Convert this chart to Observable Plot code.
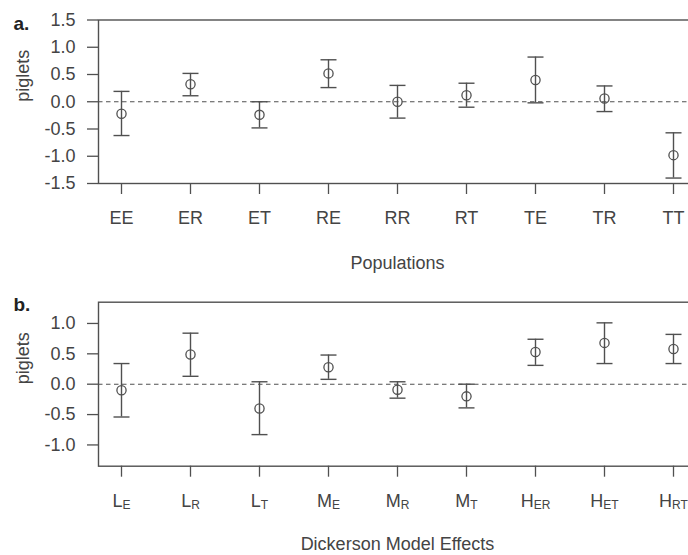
<!DOCTYPE html>
<html><head><meta charset="utf-8">
<script src="https://cdn.jsdelivr.net/npm/d3@7"></script>
<script src="https://cdn.jsdelivr.net/npm/@observablehq/plot@0.6"></script>
<style>
html,body{margin:0;padding:0;background:#fff;overflow:hidden;}
#chart{width:688px;height:555px;overflow:hidden;background:#fff;}
#chart svg{display:block;max-width:none !important;}
</style></head><body><div id="chart"></div>
<script>
// Panel a: populations
const popCategories = ["EE","ER","ET","RE","RR","RT","TE","TR","TT"];
const popMean  = [-0.22, 0.32, -0.24, 0.52, 0.00, 0.12, 0.40, 0.06, -0.98];
const popLower = [-0.62, 0.11, -0.48, 0.26, -0.30, -0.10, -0.02, -0.18, -1.40];
const popUpper = [ 0.19, 0.52,  0.00, 0.77, 0.30, 0.34, 0.82, 0.29, -0.57];
const popTicks = [-1.5, -1.0, -0.5, 0.0, 0.5, 1.0, 1.5];

// Panel b: Dickerson model effects
const effCategories = ["LE","LR","LT","ME","MR","MT","HER","HET","HRT"];
const effMain = ["L","L","L","M","M","M","H","H","H"];
const effSub  = ["E","R","T","E","R","T","ER","ET","RT"];
const effMean  = [-0.10, 0.49, -0.40, 0.28, -0.09, -0.20, 0.53, 0.68, 0.58];
const effLower = [-0.54, 0.13, -0.83, 0.08, -0.23, -0.39, 0.31, 0.34, 0.34];
const effUpper = [ 0.34, 0.84,  0.04, 0.48,  0.04,  0.00, 0.74, 1.01, 0.82];
const effTicks = [-1.0, -0.5, 0.0, 0.5, 1.0];

const ink = "#505050";
const textInk = "#444";
const font = "'Liberation Sans', Arial, Helvetica, sans-serif";

const cap = {draw(ctx, size) { const w = Math.sqrt(size / Math.PI); ctx.moveTo(-w, 0); ctx.lineTo(w, 0); }};

const popData = popCategories.map((c, i) => ({cat: c, mean: popMean[i], lower: popLower[i], upper: popUpper[i]}));
const effData = effCategories.map((c, i) => ({cat: c, mean: effMean[i], lower: effLower[i], upper: effUpper[i]}));

function panel(data, opts) {
  return Plot.plot({
    width: 700, height: opts.height,
    marginLeft: 98, marginRight: 4, marginTop: opts.marginTop, marginBottom: opts.marginBottom,
    style: {fontFamily: font, fontSize: "18px", color: textInk, background: "#fff", overflow: "visible", maxWidth: "none"},
    x: {type: "point", domain: opts.categories, padding: 0.32},
    y: {domain: opts.domain},
    marks: [
      Plot.ruleY([0], {stroke: ink, strokeDasharray: "4.5,3.5", strokeWidth: 1.1}),
      Plot.frame({stroke: ink, strokeWidth: 1.4}),
      Plot.axisY({ticks: opts.ticks, tickFormat: d => d.toFixed(1), tickSize: 11, tickPadding: 12,
        stroke: ink, strokeWidth: 1.3, label: null}),
      Plot.axisX({tickSize: 11, tickPadding: 17, stroke: ink, strokeWidth: 1.3, label: null}),
      Plot.text(["piglets"], {text: d => d, frameAnchor: "left", dx: -75, rotate: -90,
        lineAnchor: "middle", fill: textInk, fontSize: 18}),
      Plot.text([opts.xlabel], {text: d => d, frameAnchor: "bottom", dy: opts.labelOffset,
        lineAnchor: "bottom", fill: textInk, fontSize: 18}),
      Plot.ruleX(data, {x: "cat", y1: "lower", y2: "upper", stroke: ink, strokeWidth: 1.4}),
      Plot.dot(data, {x: "cat", y: "upper", symbol: cap, r: 8, stroke: ink, strokeWidth: 1.4}),
      Plot.dot(data, {x: "cat", y: "lower", symbol: cap, r: 8, stroke: ink, strokeWidth: 1.4}),
      Plot.dot(data, {x: "cat", y: "mean", r: 4.6, stroke: ink, fill: "none", strokeWidth: 1.3}),
      Plot.text([opts.tag], {text: d => d, frameAnchor: "top-left", dx: -85, dy: opts.tagDy,
        textAnchor: "start", fontWeight: "bold", fontSize: 19, fill: "#222"})
    ]
  });
}

const a = panel(popData, {height: 280, marginTop: 19.5, marginBottom: 97, categories: popCategories,
  domain: [-1.5, 1.5], ticks: popTicks, xlabel: "Populations", labelOffset: 85.5, tag: "a.", tagDy: -4});
const b = panel(effData, {height: 275, marginTop: 21.7, marginBottom: 89.3, categories: effCategories,
  domain: [-1.35, 1.35], ticks: effTicks, xlabel: "Dickerson Model Effects", labelOffset: 83.5, tag: "b.", tagDy: -5});

// subscripts on panel b tick labels
d3.select(b).selectAll('g[aria-label="x-axis tick label"] text').each(function() {
  const t = d3.select(this);
  const code = t.text();
  const i = effCategories.indexOf(code);
  if (i < 0) return;
  t.text(null);
  t.append("tspan").text(effMain[i]);
  t.append("tspan").attr("font-size", "12px").attr("dy", "2").text(effSub[i]);
});

for (const svg of [a, b]) { svg.style.maxWidth = "none"; svg.style.width = "700px"; }
document.getElementById("chart").append(a, b);
</script>
</body></html>
